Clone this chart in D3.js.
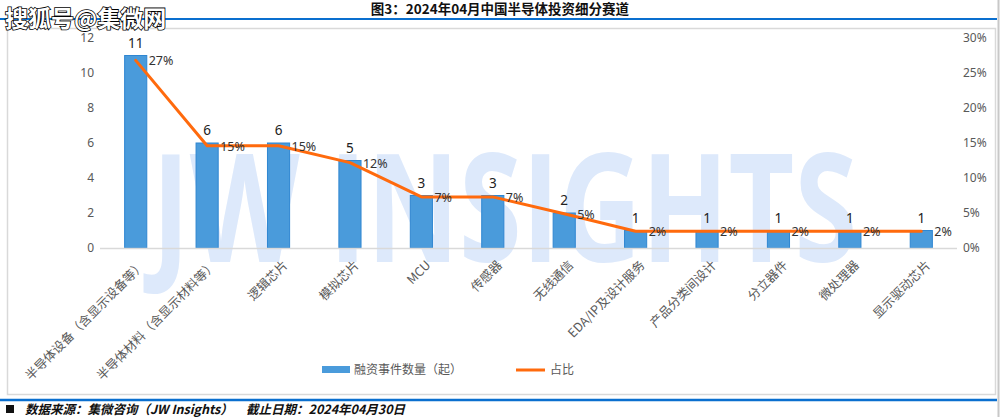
<!DOCTYPE html>
<html><head><meta charset="utf-8">
<script src="https://cdn.jsdelivr.net/npm/d3@7"></script>
<style>
html,body{margin:0;padding:0;background:#fff;}
svg{display:block;font-family:"Noto Sans CJK SC","Noto Sans",sans-serif;}
</style></head>
<body><svg id="c" width="1000" height="417"></svg>
<script>
const categories = ["半导体设备（含显示设备等）","半导体材料（含显示材料等）","逻辑芯片","模拟芯片","MCU","传感器","无线通信","EDA/IP及设计服务","产品分类间设计","分立器件","微处理器","显示驱动芯片"];
const counts = [11,6,6,5,3,3,2,1,1,1,1,1];
const shares = [0.268,0.146,0.146,0.122,0.073,0.073,0.049,0.024,0.024,0.024,0.024,0.024];
const leftTicks = [0,2,4,6,8,10,12];
const rightTicks = [0,0.05,0.10,0.15,0.20,0.25,0.30];
const title = "图3：2024年04月中国半导体投资细分赛道";
const seriesNames = ["融资事件数量（起）","占比"];
const footerParts = ["数据来源：集微咨询（JW Insights）","截止日期：2024年04月30日"];

const svg = d3.select("#c");
const plotL = 100, plotR = 957, plotT = 38, plotB = 248;

// frame
svg.append("line").attr("x1",0).attr("x2",997).attr("y1",19).attr("y2",19).attr("stroke","#0a6fcf").attr("stroke-width",2);
svg.append("rect").attr("x",7.5).attr("y",28.5).attr("width",988).attr("height",366).attr("fill","#fff").attr("stroke","#d9d9d9").attr("stroke-width",1.5);
svg.append("line").attr("x1",0).attr("x2",997).attr("y1",400).attr("y2",400).attr("stroke","#0a6fcf").attr("stroke-width",2.5);
svg.append("line").attr("x1",998.5).attr("x2",998.5).attr("y1",0).attr("y2",417).attr("stroke","#c8c8c8").attr("stroke-width",2);

svg.append("text").attr("x",500).attr("y",14).attr("text-anchor","middle").attr("font-size",13.5).attr("font-weight","bold").attr("fill","#111").text(title);

// JW INSIGHTS watermark
svg.append("text").attr("x",152).attr("y",262).attr("font-size",150).attr("font-weight","bold")
  .attr("font-family","Open Sans, sans-serif").attr("fill","#dde9fb")
  .attr("textLength",705).attr("lengthAdjust","spacingAndGlyphs").text("JW INSIGHTS");

const x = d3.scaleBand().domain(categories).range([plotL, plotR]).paddingInner(0.69).paddingOuter(0.345);
const yL = d3.scaleLinear().domain([0,12]).range([plotB, plotT]);
const yR = d3.scaleLinear().domain([0,0.30]).range([plotB, plotT]);
const cx = d => x(d) + x.bandwidth()/2;

// axes
const axL = svg.append("g").attr("transform",`translate(${plotL},0)`)
  .call(d3.axisLeft(yL).tickValues(leftTicks).tickSize(0).tickPadding(6));
axL.select(".domain").remove();
axL.selectAll("text").attr("font-size",12).attr("fill","#595959").attr("font-family","Noto Sans, sans-serif");

const axR = svg.append("g").attr("transform",`translate(${plotR+6},0)`)
  .call(d3.axisRight(yR).tickValues(rightTicks).tickSize(0).tickPadding(0).tickFormat(d3.format(".0%")));
axR.select(".domain").remove();
axR.selectAll("text").attr("font-size",12).attr("fill","#595959").attr("font-family","Noto Sans, sans-serif");

// bars
svg.append("g").selectAll("rect").data(categories).join("rect")
  .attr("x",d=>x(d)).attr("width",x.bandwidth())
  .attr("y",(d,i)=>yL(counts[i])).attr("height",(d,i)=>plotB-yL(counts[i]))
  .attr("fill","#4a9bdb").attr("stroke","#2f86d1").attr("stroke-width",1);

// baseline
svg.append("line").attr("x1",plotL).attr("x2",plotR).attr("y1",plotB+0.5).attr("y2",plotB+0.5).attr("stroke","#d9d9d9").attr("stroke-width",1.5);

// line
const line = d3.line().x((d,i)=>cx(categories[i])).y(d=>yR(d));
svg.append("path").datum(shares).attr("d",line).attr("fill","none").attr("stroke","#ff6a0d").attr("stroke-width",3).attr("stroke-linejoin","round").attr("stroke-linecap","round");

// labels
svg.append("g").selectAll("text").data(categories).join("text")
  .attr("x",d=>cx(d)).attr("y",(d,i)=>yL(counts[i])-8).attr("text-anchor","middle")
  .attr("font-size",13.5).attr("fill","#222").attr("font-family","Noto Sans, sans-serif").text((d,i)=>counts[i]);
svg.append("g").selectAll("text").data(categories).join("text")
  .attr("x",d=>cx(d)+13).attr("y",(d,i)=>yR(shares[i])+5)
  .attr("font-size",12.5).attr("fill","#333").attr("font-family","Noto Sans, sans-serif").text((d,i)=>d3.format(".0%")(shares[i]));

// x labels
svg.append("g").selectAll("text").data(categories).join("text")
  .attr("transform",d=>`translate(${cx(d)+10},${plotB+18}) rotate(-45)`)
  .attr("text-anchor","end").attr("font-size",12.5).attr("fill","#595959").text(d=>d);

// legend
svg.append("rect").attr("x",322).attr("y",366).attr("width",28).attr("height",7).attr("fill","#4a9bdb");
svg.append("text").attr("x",354).attr("y",374).attr("font-size",12).attr("fill","#595959").text(seriesNames[0]);
svg.append("line").attr("x1",516).attr("x2",545).attr("y1",370).attr("y2",370).attr("stroke","#ff6a0d").attr("stroke-width",3);
svg.append("text").attr("x",550).attr("y",374).attr("font-size",12).attr("fill","#595959").text(seriesNames[1]);

// footer
svg.append("rect").attr("x",6).attr("y",405).attr("width",8).attr("height",8).attr("fill","#111");
svg.append("text").attr("x",25).attr("y",414).attr("font-size",12.5).attr("font-weight","bold").attr("font-style","italic").attr("fill","#111").text(footerParts[0]);
svg.append("text").attr("x",246).attr("y",414).attr("font-size",12.5).attr("font-weight","bold").attr("font-style","italic").attr("fill","#111").text(footerParts[1]);

// sohu watermark
svg.append("text").attr("x",5).attr("y",27).attr("font-size",23).attr("font-weight","bold").attr("fill","#fff").attr("stroke","#000").attr("stroke-width",1.6).attr("paint-order","stroke").text("搜狐号@集微网");
</script></body></html>
